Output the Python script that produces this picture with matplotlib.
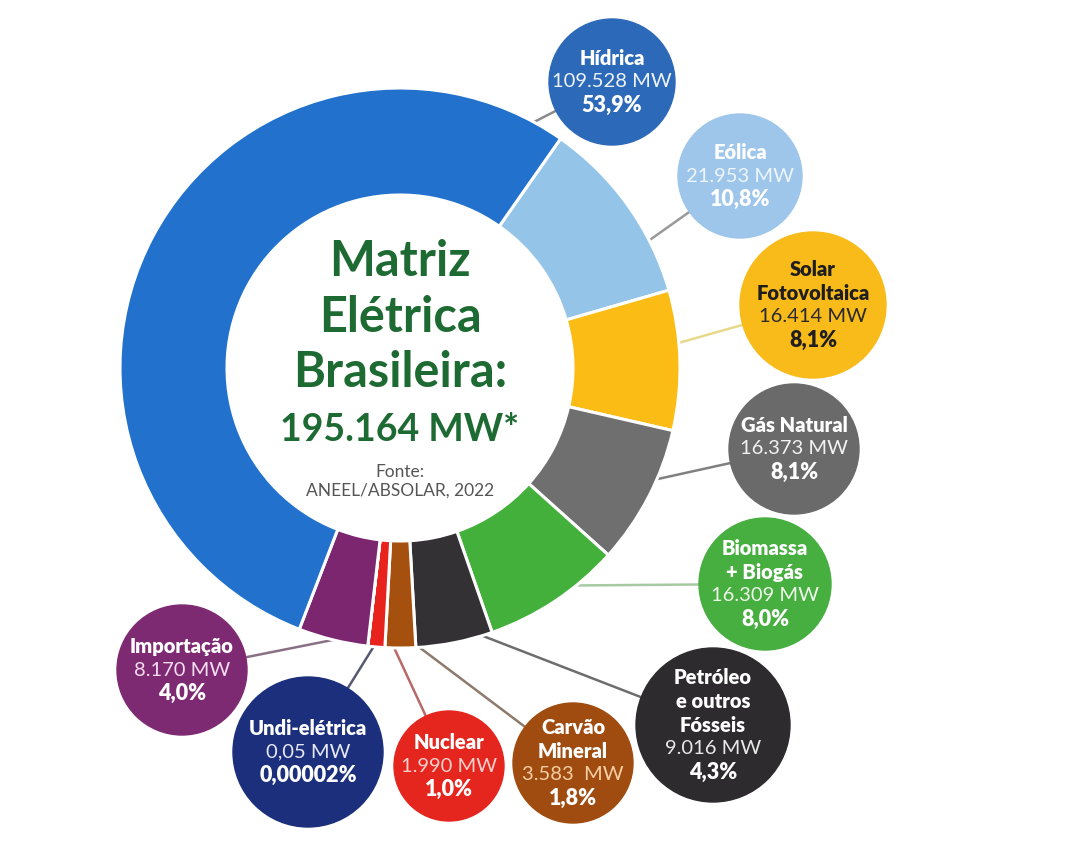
import matplotlib.pyplot as plt
from matplotlib.patches import Circle
import numpy as np

plt.rcParams['font.family'] = ['Lato', 'DejaVu Sans']

# ---- data (clockwise from Eólica)
names = ['Eólica', 'Solar\nFotovoltaica', 'Gás Natural', 'Biomassa\n+ Biogás',
         'Petróleo\ne outros\nFósseis', 'Carvão\nMineral', 'Nuclear',
         'Undi-elétrica', 'Importação', 'Hídrica']
mw = [21953, 16414, 16373, 16309, 9016, 3583, 1990, 0.05, 8170, 109528]
mw_labels = ['21.953 MW', '16.414 MW', '16.373 MW', '16.309 MW', '9.016 MW',
             '3.583  MW', '1.990 MW', '0,05 MW', '8.170 MW', '109.528 MW']
pct_labels = ['10,8%', '8,1%', '8,1%', '8,0%', '4,3%', '1,8%', '1,0%',
              '0,00002%', '4,0%', '53,9%']

# ---- styling / layout (pixel coords, y from top)
wedge_colors = ['#95c4e9', '#fbbc15', '#6f6f6f', '#43b03c', '#333133',
                '#a5500e', '#e8221d', '#1c2f7c', '#7d2670', '#2271cd']
bubble_colors = ['#9dc6ea', '#f9bb1a', '#6a6a6a', '#47ae40', '#2d2b2d',
                 '#a04c10', '#e4261f', '#1c2f7c', '#7e2a72', '#2c69b8']
text_colors = ['#ffffff', '#1e1e1e', '#ffffff', '#ffffff', '#ffffff',
               '#ffffff', '#ffffff', '#ffffff', '#ffffff', '#ffffff']
mw_colors = ['#eef5fb', '#2a2a2a', '#f2f2f2', '#eef8ea', '#e8e8e8',
             '#f7cfa5', '#fbd0cc', '#e6e9f5', '#f6dcef', '#eef3fb']
bubble_xy = [(740, 176), (813, 305), (794, 449), (765, 584), (713, 725),
             (573, 763), (449, 766), (308, 752), (182, 670), (612, 82)]
bubble_r = [62, 73, 65, 66, 77, 60, 55, 75, 65, 63]
anchor_ang = [27, 5, -24, -52, -74, -87, -91.6, -95, -102, 62]
line_colors = ['#9a9a9a', '#e8d98a', '#808080', '#a7c9a2', '#6d6d6d',
               '#8e7a6c', '#b86a66', '#555a72', '#8a7085', '#8a8a8a']

H = 863
cx, cy = 400, 368
R_out, ring_w = 280, 107

fig = plt.figure(figsize=(10.8, 8.63), dpi=100)
ax = fig.add_axes([0, 0, 1, 1])

ax.pie(mw, colors=wedge_colors, startangle=55, counterclock=False,
       center=(cx, H - cy), radius=R_out,
       wedgeprops=dict(width=ring_w, edgecolor='white', linewidth=2.2))

for i in range(len(names)):
    bx, by = bubble_xy[i]
    a = np.deg2rad(anchor_ang[i])
    x0 = cx + (R_out - 4) * np.cos(a)
    y0 = (H - cy) + (R_out - 4) * np.sin(a)
    ax.plot([x0, bx], [y0, H - by], color=line_colors[i], lw=1.8, zorder=0.5)
    ax.add_patch(Circle((bx, H - by), bubble_r[i], color=bubble_colors[i],
                        zorder=3))

    name_lines = names[i].split('\n')
    rows = [(t, 'heavy', 14.5, text_colors[i]) for t in name_lines]
    rows.append((mw_labels[i], 'normal', 14.5, mw_colors[i]))
    rows.append((pct_labels[i], 'heavy', 15.5, text_colors[i]))
    step = 23.5
    y_top = by - step * (len(rows) - 1) / 2
    for k, (t, w, fs, c) in enumerate(rows):
        ax.text(bx, H - (y_top + k * step), t, ha='center', va='center',
                fontsize=fs, fontweight=w, color=c, zorder=4)

green = '#1d6a32'
for t, y in [('Matriz', 262), ('Elétrica', 318), ('Brasileira:', 373)]:
    ax.text(cx, H - y, t, ha='center', va='center', fontsize=35,
            fontweight='bold', color=green)
ax.text(cx, H - 430, '195.164 MW*', ha='center', va='center', fontsize=27,
        fontweight='bold', color=green)
ax.text(cx, H - 472, 'Fonte:', ha='center', va='center', fontsize=12.5,
        color='#555555')
ax.text(cx, H - 491, 'ANEEL/ABSOLAR, 2022', ha='center', va='center',
        fontsize=12.5, color='#555555')

ax.set_xlim(0, 1080)
ax.set_ylim(0, H)
ax.set_aspect('equal')
ax.set_axis_off()

plt.savefig('out.png', dpi=100)
